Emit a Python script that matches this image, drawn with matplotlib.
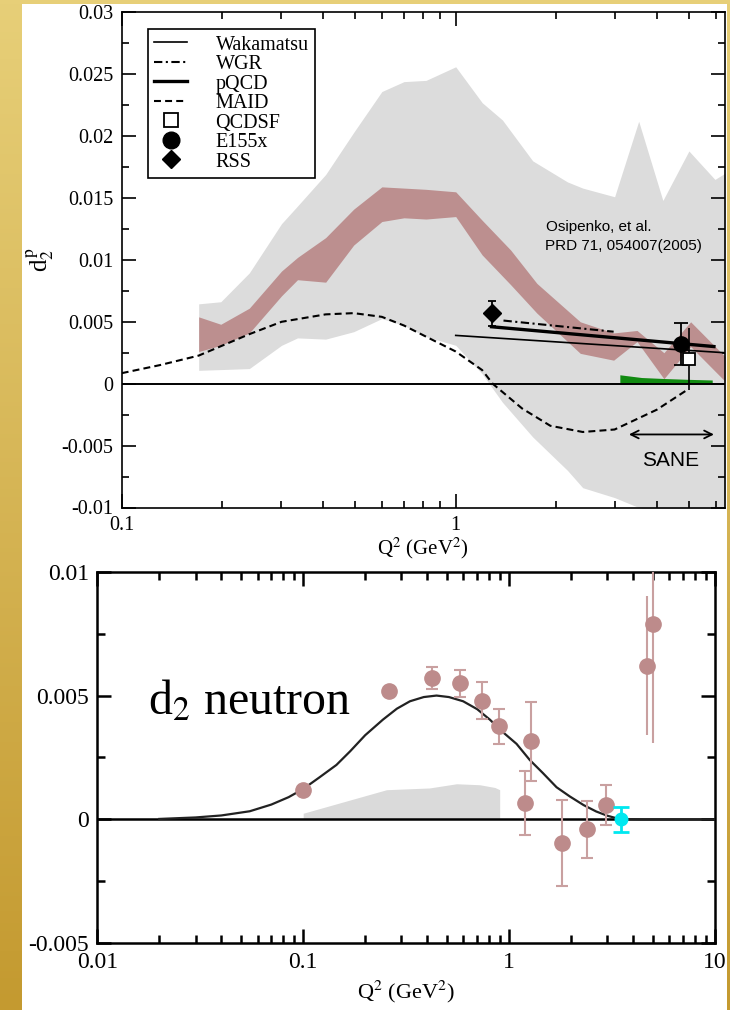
import matplotlib
matplotlib.use("Agg")
import matplotlib.pyplot as plt
import numpy as np
from matplotlib.lines import Line2D
from matplotlib.patches import Rectangle
from matplotlib.ticker import FuncFormatter, LogLocator, MultipleLocator, NullFormatter

plt.rcParams["font.family"] = ["Liberation Serif", "DejaVu Serif"]
plt.rcParams["mathtext.fontset"] = "stix"
plt.rcParams["lines.scale_dashes"] = False

# ---- proton d2 (top panel) ----
# global-analysis error band (light gray)
gray_q2 = [0.17, 0.198, 0.241, 0.301, 0.336, 0.408, 0.495, 0.601, 0.70, 0.815, 1.0,
           1.2, 1.38, 1.7, 2.16, 2.4, 2.99, 3.53, 4.17, 4.99, 5.97, 6.4]
gray_hi = [0.00645, 0.00662, 0.00895, 0.01293, 0.01435, 0.0169, 0.0203, 0.0236, 0.0244,
           0.0245, 0.0256, 0.0227, 0.0213, 0.0180, 0.0163, 0.0158, 0.0151, 0.0212,
           0.0148, 0.0188, 0.0165, 0.0170]
gray_lo = [0.00108, 0.00114, 0.00122, 0.0031, 0.0037, 0.0036, 0.0042, 0.00526, 0.0047,
           0.0038, 0.0031, 0.0008, -0.0015, -0.0043, -0.0070, -0.0084, -0.0092, -0.0100,
           -0.0105, -0.011, -0.011, -0.011]

# Osipenko et al. band
osi_q2 = [0.17, 0.198, 0.241, 0.301, 0.336, 0.408, 0.495, 0.601, 0.70, 0.815, 1.0,
          1.2, 1.46, 1.75, 2.36, 2.97, 3.49, 4.2, 5.05, 6.4]
osi_hi = [0.0054, 0.0048, 0.0061, 0.0091, 0.0102, 0.0118, 0.0141, 0.0159, 0.0158, 0.0157,
          0.0155, 0.0132, 0.0108, 0.0081, 0.0050, 0.0041, 0.0043, 0.0025, 0.0050, 0.0022]
osi_lo = [0.0026, 0.0031, 0.0041, 0.0071, 0.0084, 0.0082, 0.0112, 0.0131, 0.0134, 0.0133,
          0.0135, 0.0104, 0.0080, 0.0057, 0.00245, 0.0019, 0.0034, 0.0004, 0.0030, 0.0002]

# SANE projected uncertainty
sane_q2 = [3.1, 3.6, 4.2, 5.0, 5.86]
sane_hi = [0.00072, 0.0005, 0.00042, 0.00035, 0.0003]

maid_q2 = [0.1, 0.13, 0.17, 0.241, 0.301, 0.408, 0.495, 0.601, 0.70, 0.815, 1.0, 1.2,
           1.29, 1.58, 1.92, 2.4, 2.99, 4.0, 4.93]
maid_d2 = [0.00085, 0.0015, 0.00227, 0.0040, 0.0050, 0.0056, 0.0057, 0.0054, 0.0047,
           0.0038, 0.0026, 0.0011, 0.0, -0.0020, -0.0034, -0.0039, -0.0037, -0.0021, -0.0005]

wak_q2 = [1.0, 6.4]
wak_d2 = [0.0039, 0.0025]
pqcd_q2 = [1.28, 5.93]
pqcd_d2 = [0.0046, 0.0030]
wgr_q2 = [1.39, 2.97]
wgr_d2 = [0.0051, 0.0042]

rss_q2, rss_d2, rss_err = 1.28, 0.0057, 0.001
e155_q2, e155_d2, e155_err = 4.71, 0.0032, 0.0017
qcdsf_q2, qcdsf_d2, qcdsf_err = 5.0, 0.002, 0.0025

# ---- neutron d2 (bottom panel) ----
n_q2 = [0.42, 0.58, 0.736, 0.89, 1.19, 1.28, 1.80, 2.40, 2.97]
n_d2 = [0.0057, 0.0055, 0.0048, 0.00376, 0.00066, 0.00315, -0.00096, -0.00039, 0.00059]
n_err = [0.00045, 0.00055, 0.00074, 0.0007, 0.0013, 0.0016, 0.00173, 0.00115, 0.0008]
n_low_q2 = [0.1, 0.26]
n_low_d2 = [0.0012, 0.0052]
n_hi_q2 = [4.66, 5.0]
n_hi_d2 = [0.0062, 0.0079]
n_hi_err = [0.0028, 0.0048]
n_new_q2, n_new_d2, n_new_err = 3.5, 0.0, 0.0005

nband_q2 = [0.1, 0.254, 0.41, 0.556, 0.72, 0.853, 0.9]
nband_hi = [0.00025, 0.0012, 0.00127, 0.00144, 0.0014, 0.00129, 0.0012]

curve_q2 = [0.02, 0.03, 0.04, 0.055, 0.07, 0.085, 0.1, 0.12, 0.145, 0.169, 0.2, 0.244,
            0.285, 0.33, 0.385, 0.444, 0.51, 0.598, 0.7, 0.806, 0.94, 1.087, 1.26, 1.46,
            1.7, 1.97, 2.3, 2.65, 3.0, 3.32, 3.8, 4.5, 10.0]
curve_d2 = [0.00002, 0.00008, 0.00016, 0.00033, 0.0006, 0.0009, 0.00123, 0.0017, 0.0022,
            0.00275, 0.0034, 0.00403, 0.00447, 0.00477, 0.00494, 0.0050, 0.00494, 0.00477,
            0.00445, 0.00403, 0.0035, 0.00305, 0.0024, 0.00187, 0.0013, 0.00093, 0.00058,
            0.00032, 0.00015, 0.00005, 0.00001, 0.0, 0.0]

ROSY = "#bc8f8f"
ROSY_PT = "#bd8b8b"
ROSY_ERR = "#c9a0a0"


def fmt(v, pos):
    return "%g" % (round(v, 6) + 0.0)


def style_axis(ax, size, major_len, minor_len, width):
    ax.set_xscale("log")
    ax.xaxis.set_major_locator(LogLocator(base=10))
    ax.xaxis.set_minor_locator(LogLocator(base=10, subs=np.arange(2, 10)))
    ax.xaxis.set_major_formatter(FuncFormatter(fmt))
    ax.xaxis.set_minor_formatter(NullFormatter())
    ax.yaxis.set_major_formatter(FuncFormatter(fmt))
    ax.tick_params(which="both", direction="in", top=True, right=True,
                   labelsize=size, width=width)
    ax.tick_params(which="major", length=major_len, pad=6)
    ax.tick_params(which="minor", length=minor_len)
    for sp in ax.spines.values():
        sp.set_linewidth(width)


fig = plt.figure(figsize=(7.3, 10.1), dpi=100)

# golden slide background with white panel area
bg = fig.add_axes([0, 0, 1, 1], zorder=-10)
bg.set_axis_off()
top_c = np.array([231, 207, 120]) / 255
bot_c = np.array([196, 154, 48]) / 255
t = np.linspace(0, 1, 256)[:, None, None]
grad = top_c * (1 - t) + bot_c * t
bg.imshow(grad, extent=[0, 1, 0, 1], aspect="auto", origin="upper")
bg.add_patch(Rectangle((22 / 730, 0), 705 / 730, 1006 / 1010, color="white", lw=0))
bg.set_xlim(0, 1)
bg.set_ylim(0, 1)

# ---------------- top panel ----------------
ax1 = fig.add_axes([121.7 / 730, 1 - 507.5 / 1010, 603.3 / 730, 495.2 / 1010])
style_axis(ax1, 14.5, 10, 5, 1.2)
ax1.set_xlim(0.1, 6.4)
ax1.set_ylim(-0.01, 0.03)
ax1.yaxis.set_major_locator(MultipleLocator(0.005))
ax1.yaxis.set_minor_locator(MultipleLocator(0.0025))

ax1.fill_between(gray_q2, gray_lo, gray_hi, color="#dcdcdc", lw=0, zorder=1)
ax1.fill_between(osi_q2, osi_lo, osi_hi, color=ROSY, lw=0, zorder=2)
ax1.fill_between(sane_q2, 0, sane_hi, color="#118a11", lw=0, zorder=2)
ax1.axhline(0, color="k", lw=1.4, zorder=3)

maid, = ax1.plot(maid_q2, maid_d2, color="k", lw=1.5, ls=(0, (5, 3)), zorder=4)
wak, = ax1.plot(wak_q2, wak_d2, color="k", lw=1.2, zorder=4)
pqcd, = ax1.plot(pqcd_q2, pqcd_d2, color="k", lw=2.4, zorder=4)
wgr, = ax1.plot(wgr_q2, wgr_d2, color="k", lw=1.5, ls=(0, (6, 2.5, 1.5, 2.5)), zorder=4)

ax1.errorbar(rss_q2, rss_d2, yerr=rss_err, fmt="D", color="k", ms=9, capsize=3,
             elinewidth=1.3, capthick=1.3, zorder=5)
ax1.errorbar(e155_q2, e155_d2, yerr=e155_err, fmt="o", color="k", ms=11, capsize=5,
             elinewidth=1.3, capthick=1.3, zorder=5)
ax1.errorbar(qcdsf_q2, qcdsf_d2, yerr=qcdsf_err, fmt="s", mfc="white", mec="k", mew=1.3,
             ms=9, ecolor="k", elinewidth=1.2, capsize=0, zorder=6)

ax1.annotate("", xy=(3.3, -0.0041), xytext=(5.93, -0.0041),
             arrowprops=dict(arrowstyle="<->", color="k", lw=1.3,
                             shrinkA=0, shrinkB=0, mutation_scale=14), zorder=6)
ax1.text(4.4, -0.0062, "SANE", family="Liberation Sans", fontsize=15,
         ha="center", va="center", zorder=6)
ax1.text(0.703, 0.567, "Osipenko, et al.", transform=ax1.transAxes,
         family="Liberation Sans", fontsize=11, ha="left", va="center")
ax1.text(0.7015, 0.5287, "PRD 71, 054007(2005)", transform=ax1.transAxes,
         family="Liberation Sans", fontsize=11, ha="left", va="center")

handles = [
    wak, wgr, pqcd, maid,
    Line2D([], [], ls="none", marker="s", mfc="white", mec="k", mew=1.3, ms=10),
    Line2D([], [], ls="none", marker="o", color="k", ms=12),
    Line2D([], [], ls="none", marker="D", color="k", ms=9),
]
labels = ["Wakamatsu", "WGR", "pQCD", "MAID", "QCDSF", "E155x", "RSS"]
leg = ax1.legend(handles, labels, loc="upper left",
                 bbox_to_anchor=(26 / 603.3, 1 - 16.7 / 495.2), borderaxespad=0,
                 fontsize=14.5, frameon=True, fancybox=False, edgecolor="k",
                 framealpha=1, handlelength=1.65, handletextpad=1.4, borderpad=0.32,
                 labelspacing=0.02)
leg.get_frame().set_linewidth(1.2)
leg.set_zorder(10)

ax1.set_xlabel(r"Q$^2$ (GeV$^2$)", fontsize=15)
ax1.xaxis.set_label_coords(0.5, (507.5 - 548) / 495.2)
ax1.xaxis.label.set_va("center")
ax1.set_ylabel(r"d$_2^{\,\mathrm{p}}$", fontsize=18)
ax1.yaxis.set_label_coords((40 - 121.7) / 603.3, 0.5)
ax1.yaxis.label.set_va("center")

# ---------------- bottom panel ----------------
ax2 = fig.add_axes([97.3 / 730, 1 - 943.3 / 1010, 617.7 / 730, 371.6 / 1010])
style_axis(ax2, 17, 10, 6, 1.8)
ax2.set_xlim(0.01, 10)
ax2.set_ylim(-0.005, 0.01)
ax2.yaxis.set_major_locator(MultipleLocator(0.005))
ax2.yaxis.set_minor_locator(MultipleLocator(0.0025))

ax2.fill_between(nband_q2, 0, nband_hi, color="#dadada", lw=0, zorder=1)
ax2.axhline(0, color="k", lw=1.8, zorder=2)
ax2.plot(curve_q2, curve_d2, color="#222222", lw=1.6, zorder=3)

ax2.errorbar(n_q2, n_d2, yerr=n_err, fmt="o", ms=11, mfc=ROSY_PT, mec=ROSY_PT,
             ecolor=ROSY_ERR, elinewidth=1.5, capsize=4.5, capthick=1.5, zorder=4)
ax2.errorbar(n_hi_q2, n_hi_d2, yerr=n_hi_err, fmt="o", ms=11, mfc=ROSY_PT, mec=ROSY_PT,
             ecolor=ROSY_ERR, elinewidth=1.5, capsize=0, zorder=4)
ax2.plot(n_low_q2, n_low_d2, "o", ms=11, color=ROSY_PT, zorder=4)
ax2.errorbar(n_new_q2, n_new_d2, yerr=n_new_err, fmt="o", ms=9, color="#00e8f0",
             elinewidth=2, capsize=6, capthick=2, zorder=5)

ax2.text((148 - 97.3) / 617.7, (943.3 - 715) / 371.6, r"d$_2$ neutron",
         transform=ax2.transAxes, fontsize=34.5, ha="left", va="baseline")

ax2.set_xlabel(r"Q$^2$ (GeV$^2$)", fontsize=16)
ax2.xaxis.set_label_coords(0.5, (943.3 - 992) / 371.6)
ax2.xaxis.label.set_va("center")

fig.savefig("out.png", dpi=100)
